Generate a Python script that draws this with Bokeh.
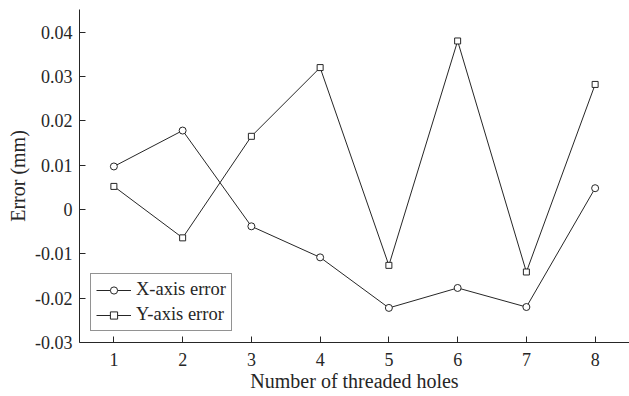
from bokeh.plotting import figure
from bokeh.models import Legend, LegendItem, FixedTicker, Range1d
from bokeh.embed import file_html
from bokeh.resources import INLINE

holes = [1, 2, 3, 4, 5, 6, 7, 8]
x_err = [0.0097, 0.0178, -0.0038, -0.0108, -0.0222, -0.0177, -0.0220, 0.0048]
y_err = [0.0052, -0.0064, 0.0165, 0.0320, -0.0126, 0.0380, -0.0141, 0.0282]
y_ticks = [-0.03, -0.02, -0.01, 0, 0.01, 0.02, 0.03, 0.04]
y_labels = {-0.03: "-0.03", -0.02: "-0.02", -0.01: "-0.01", 0: "0",
            0.01: "0.01", 0.02: "0.02", 0.03: "0.03", 0.04: "0.04"}

FONT = "Liberation Serif"
INK = "#262626"

p = figure(width=629, height=396, output_backend="svg", toolbar_location=None,
           x_range=Range1d(0.5, 8.5), y_range=Range1d(-0.03, 0.0451),
           min_border_left=79, min_border_right=0, min_border_top=9, min_border_bottom=54)
p.outline_line_color = None
p.xgrid.visible = False
p.ygrid.visible = False

l1 = p.line(holes, x_err, line_color=INK, line_width=1)
m1 = p.scatter(holes, x_err, marker="circle", size=7, line_color=INK, fill_color="white", line_width=1)
l2 = p.line(holes, y_err, line_color=INK, line_width=1)
m2 = p.scatter(holes, y_err, marker="square", size=6, line_color=INK, fill_color="white", line_width=1)

for ax in (p.xaxis[0], p.yaxis[0]):
    ax.axis_line_color = INK
    ax.major_tick_line_color = INK
    ax.major_tick_in = 6
    ax.major_tick_out = 0
    ax.minor_tick_line_color = None
    ax.major_label_text_font = FONT
    ax.major_label_text_font_size = "18px"
    ax.major_label_text_color = INK
    ax.axis_label_text_font = FONT
    ax.axis_label_text_font_size = "20px"
    ax.axis_label_text_font_style = "normal"
    ax.axis_label_text_color = INK

p.xaxis.ticker = FixedTicker(ticks=holes)
p.yaxis.ticker = FixedTicker(ticks=y_ticks)
p.yaxis.major_label_overrides = y_labels
p.xaxis.major_label_standoff = 10
p.yaxis.major_label_standoff = 7
p.xaxis.axis_label = "Number of threaded holes"
p.yaxis.axis_label = "Error (mm)"
p.xaxis.axis_label_standoff = 1
p.yaxis.axis_label_standoff = 3

legend = Legend(items=[LegendItem(label="X-axis error", renderers=[l1, m1]),
                       LegendItem(label="Y-axis error", renderers=[l2, m2])],
                location="bottom_left")
legend.label_text_font = FONT
legend.label_text_font_size = "18.5px"
legend.label_text_color = INK
legend.border_line_color = INK
legend.border_line_width = 1
legend.glyph_width = 35
legend.glyph_height = 18
legend.label_height = 18
legend.spacing = 4
legend.padding = 5
legend.margin = 11
legend.label_standoff = 5
legend.background_fill_alpha = 1
p.add_layout(legend)

open("out.html", "w").write(file_html(p, INLINE))
